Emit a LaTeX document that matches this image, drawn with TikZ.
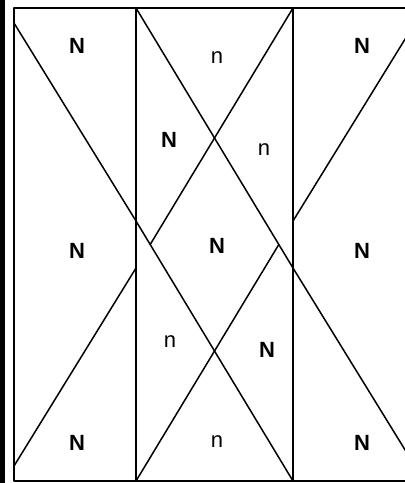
\documentclass[tikz,border=0pt]{standalone}
\usepackage{fontspec}
\setmainfont{Liberation Sans}
\begin{document}
\begin{tikzpicture}[x=1pt,y=-1pt,
  ln/.style={line width=1.5pt,line cap=round,line join=round},
  bigN/.style={font=\fontsize{22}{24}\selectfont\bfseries,inner sep=0pt},
  smalln/.style={font=\fontsize{22}{24}\selectfont,inner sep=0pt}]
\useasboundingbox (0,0) rectangle (405,483);
\clip (0,0) rectangle (405,483);
\fill[black] (0,0) rectangle (4.5,483);
% corners and column lines
\coordinate (A) at (14,8);
\coordinate (B) at (136,8);
\coordinate (C) at (293,8);
\coordinate (D) at (415,8);
\coordinate (E) at (14,481);
\coordinate (F) at (136,481);
\coordinate (G) at (293,481);
\coordinate (H) at (415,481);
\coordinate (P1) at (14,23);
\coordinate (P2) at (136,221);
\coordinate (P3) at (136,268);
\coordinate (P4) at (14,466);
\coordinate (Q1) at (415,23);
\coordinate (Q2) at (293,221);
\coordinate (Q3) at (293,268);
\coordinate (Q4) at (415,466);
\coordinate (X1) at (intersection of C--P3 and P2--G);
\coordinate (X2) at (intersection of F--Q2 and B--Q3);
% frame
\draw[ln] (D) -- (A) -- (E) -- (H);
\draw[ln] (B) -- (F);
\draw[ln] (C) -- (G);
% diagonals
\draw[ln] (P1) -- (P2) -- (G);
\draw[ln] (B) -- (Q3) -- (Q4);
\draw[ln] (C) -- (X1);
\draw[ln] (P3) -- (P4);
\draw[ln] (Q1) -- (Q2);
\draw[ln] (F) -- (X2);
% labels
\node[bigN] (l1) at (77,46) {N};
\node[smalln] (l2) at (217,58) {n};
\node[bigN] (l3) at (362,46) {N};
\node[bigN] (l4) at (169,140) {N};
\node[smalln] (l5) at (264,150) {n};
\node[bigN] (l6) at (77,251) {N};
\node[bigN] (l7) at (217,246) {N};
\node[bigN] (l8) at (362,251) {N};
\node[smalln] (l9) at (170,342) {n};
\node[bigN] (l10) at (267,350) {N};
\node[bigN] (l11) at (77,443) {N};
\node[smalln] (l12) at (217,442) {n};
\node[bigN] (l13) at (362,443) {N};
\end{tikzpicture}
\end{document}
